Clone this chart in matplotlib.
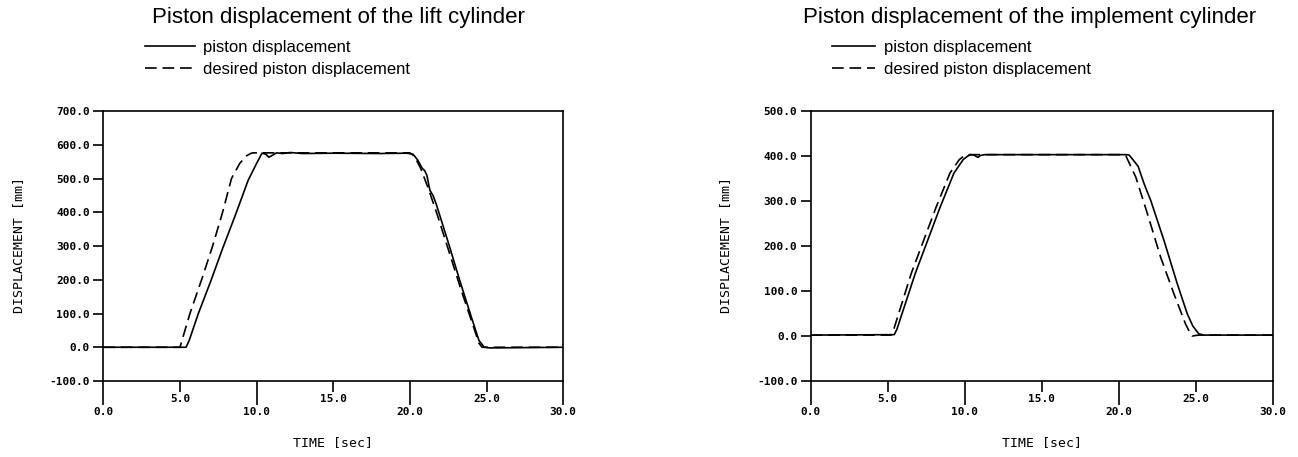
import matplotlib.pyplot as plt
from matplotlib.ticker import FixedLocator, FormatStrFormatter

# lift cylinder (left panel)
lift_t_actual = [0, 5.4, 5.6, 6.2, 7.0, 7.8, 8.6, 9.45, 10.0, 10.35, 10.6, 10.8, 11.0, 11.3, 11.7,
                 12.2, 13.0, 15.0, 18.0, 19.8, 20.2, 20.5, 20.8, 20.95, 21.1, 21.3, 21.5, 21.7,
                 22.5, 23.3, 24.0, 24.5, 24.85, 25.2, 30]
lift_y_actual = [0, 0, 20, 100, 195, 295, 390, 495, 545, 575, 572, 563, 568, 576, 574,
                 577, 574, 575, 574, 575, 572, 555, 530, 524, 510, 465, 450, 426,
                 310, 190, 90, 20, 0, -2, 0]
lift_t_desired = [0, 5.0, 5.65, 6.41, 7.13, 7.78, 8.36, 8.9, 9.34, 9.6, 9.75, 10.4, 15.0, 20.0,
                  20.3, 20.7, 21.2, 21.8, 22.5, 23.3, 24.0, 24.5, 24.7, 30]
lift_y_desired = [0, 0, 100, 200, 300, 400, 500, 545, 567, 574, 576, 576, 576, 576,
                  565, 530, 470, 390, 290, 175, 80, 12, 0, 0]

# implement cylinder (right panel)
impl_t_actual = [0, 5.43, 5.6, 6.79, 8.4, 9.3, 9.9, 10.2, 10.4, 10.6, 10.75, 10.86, 11.0, 11.3,
                 12.0, 15.0, 18.0, 20.5, 20.67, 21.0, 21.25, 21.64, 22.07, 22.93, 23.79, 24.43,
                 24.8, 25.18, 25.5, 30]
impl_y_actual = [2, 3, 15, 139, 286, 362, 392, 400, 403, 402, 399, 397, 401, 403,
                 403, 403, 403, 403, 402, 388, 377, 338, 301, 212, 116, 50,
                 22, 5, 2, 2]
impl_t_desired = [0, 5.22, 5.35, 6.53, 8.14, 9.04, 9.65, 9.95, 10.15, 15.0, 20.3, 20.46, 21.1,
                  21.85, 22.71, 23.57, 24.32, 24.6, 24.75, 24.95, 25.2, 30]
impl_y_desired = [2, 2, 10, 139, 286, 362, 392, 400, 403, 403, 403, 400, 353,
                  272, 175, 94, 27, 8, 0, 1, 2, 2]

major_x = [0, 10, 20, 30]
minor_x = [5, 15, 25]
lift_yticks = [-100, 0, 100, 200, 300, 400, 500, 600, 700]
impl_yticks = [-100, 0, 100, 200, 300, 400, 500]

W, H = 1298, 457
fig = plt.figure(figsize=(W / 100, H / 100), dpi=100)

tick_font = {'family': 'DejaVu Sans Mono', 'weight': 'bold', 'size': 8}
label_font = {'family': 'DejaVu Sans Mono', 'size': 9.5}


def setup_axes(rect, yticks, title, title_x, legend_x, handlelen, t_act, y_act, t_des, y_des):
    ax = fig.add_axes(rect)
    ax.plot(t_act, y_act, color='black', lw=1.2, label='piston displacement')
    ax.plot(t_des, y_des, color='black', lw=1.2, dashes=(7, 3.5), label='desired piston displacement')
    ax.set_xlim(0, 30)
    ax.set_ylim(yticks[0], yticks[-1])
    for s in ax.spines.values():
        s.set_linewidth(1.2)
    ax.xaxis.set_major_locator(FixedLocator(major_x))
    ax.xaxis.set_minor_locator(FixedLocator(minor_x))
    ax.xaxis.set_major_formatter(FormatStrFormatter('%.1f'))
    ax.xaxis.set_minor_formatter(FormatStrFormatter('%.1f'))
    ax.set_yticks(yticks)
    ax.yaxis.set_major_formatter(FormatStrFormatter('%.1f'))
    ax.tick_params(axis='x', which='major', direction='out', length=17.5, width=1.2, pad=1)
    ax.tick_params(axis='x', which='minor', direction='out', length=8, width=1.2, pad=1)
    ax.tick_params(axis='y', which='major', direction='out', length=7.5, width=1.2, pad=2)
    for lab in ax.get_xticklabels(which='both') + ax.get_yticklabels():
        lab.set_fontproperties(tick_font)
    # title and legend sit above the axes
    fig.text(title_x / W, 1 - 18 / H, title, ha='center', va='center',
             fontsize=16, family='Liberation Sans')
    ax.legend(loc='upper left', bbox_to_anchor=(legend_x / W, 1 - 40 / H),
              bbox_transform=fig.transFigure, frameon=False,
              prop={'family': 'Liberation Sans', 'size': 12},
              handlelength=handlelen, handletextpad=0.5, labelspacing=0.42,
              borderpad=0, borderaxespad=0)
    x0 = rect[0] * W
    fig.text((x0 - 85) / W, 1 - 245 / H, 'DISPLACEMENT [mm]', rotation=90,
             ha='center', va='center', fontdict=label_font)
    fig.text((x0 + rect[2] * W / 2) / W, 1 - 443 / H, 'TIME [sec]',
             ha='center', va='center', fontdict=label_font)
    return ax


setup_axes([103.3 / W, 76 / H, 460 / W, 270 / H], lift_yticks,
           'Piston displacement of the lift cylinder', 338, 145, 3.0,
           lift_t_actual, lift_y_actual, lift_t_desired, lift_y_desired)
setup_axes([810.6 / W, 76 / H, 462.4 / W, 270 / H], impl_yticks,
           'Piston displacement of the implement cylinder', 1030, 832, 2.6,
           impl_t_actual, impl_y_actual, impl_t_desired, impl_y_desired)

fig.savefig('out.png', dpi=100)
